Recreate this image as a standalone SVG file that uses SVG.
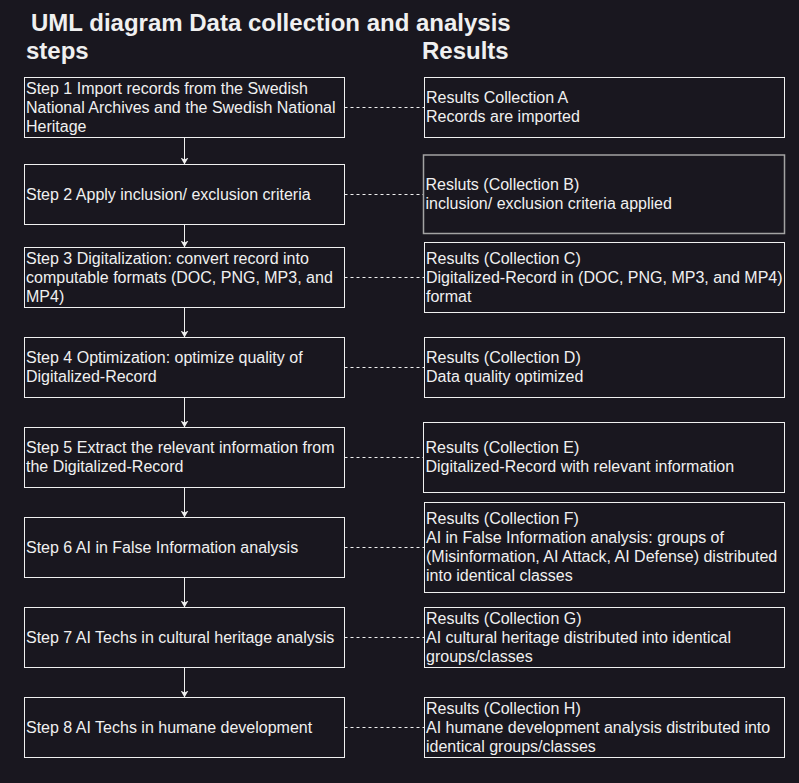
<svg xmlns="http://www.w3.org/2000/svg" width="799" height="783" viewBox="0 0 799 783">
<style>
.bg{fill:#19171f}
.box{fill:#19171f;stroke:#f0f0f0;stroke-width:1}
.boxg{fill:#19171f;stroke:#a3a3a3;stroke-width:1.5}
.t{font-family:"Liberation Sans",Arial,sans-serif;font-size:16px;fill:#f0f0f0}
.h{font-family:"Liberation Sans",Arial,sans-serif;font-size:24px;font-weight:bold;fill:#f0f0f0}
.flow{stroke:#f0f0f0;stroke-width:1;fill:none}
.dash{stroke:#f0f0f0;stroke-width:1;fill:none;stroke-dasharray:3 3}
</style>
<defs>
<marker id="arr" viewBox="0 0 7 8" refX="7" refY="4" markerWidth="7" markerHeight="8" markerUnits="userSpaceOnUse" orient="auto">
<path d="M0,0 L7,4 L0,8 L2,4 Z" fill="#f0f0f0"/>
</marker>
</defs>
<rect class="bg" x="0" y="0" width="799" height="783"/>
<g id="titles">
<text class="h" x="31" y="31">UML diagram Data collection and analysis</text>
<text class="h" x="26" y="59">steps</text>
<text class="h" x="422" y="59">Results</text>
</g>
<g id="connectors">
<line class="flow" x1="184.5" y1="137.5" x2="184.5" y2="164.5" marker-end="url(#arr)"/>
<line class="flow" x1="184.5" y1="224.5" x2="184.5" y2="247.5" marker-end="url(#arr)"/>
<line class="flow" x1="184.5" y1="307.5" x2="184.5" y2="337.5" marker-end="url(#arr)"/>
<line class="flow" x1="184.5" y1="397.5" x2="184.5" y2="427.5" marker-end="url(#arr)"/>
<line class="flow" x1="184.5" y1="487.5" x2="184.5" y2="517.5" marker-end="url(#arr)"/>
<line class="flow" x1="184.5" y1="577.5" x2="184.5" y2="607.5" marker-end="url(#arr)"/>
<line class="flow" x1="184.5" y1="667.5" x2="184.5" y2="697.5" marker-end="url(#arr)"/>
<line class="dash" x1="344.5" y1="107.5" x2="424.5" y2="107.5"/>
<line class="dash" x1="344.5" y1="194.5" x2="423.5" y2="194.5"/>
<line class="dash" x1="344.5" y1="277.5" x2="424.5" y2="277.5"/>
<line class="dash" x1="344.5" y1="367.5" x2="424.5" y2="367.5"/>
<line class="dash" x1="344.5" y1="457.5" x2="423.5" y2="457.5"/>
<line class="dash" x1="344.5" y1="547.5" x2="424.5" y2="547.5"/>
<line class="dash" x1="344.5" y1="637.5" x2="424.5" y2="637.5"/>
<line class="dash" x1="344.5" y1="727.5" x2="424.5" y2="727.5"/>
</g>
<g id="step1"><rect class="box" x="24.5" y="77.5" width="320" height="60"/>
<text class="t" x="26" y="93.5">Step 1 Import records from the Swedish</text>
<text class="t" x="26" y="112.5">National Archives and the Swedish National</text>
<text class="t" x="26" y="131.5">Heritage</text></g>
<g id="step2"><rect class="box" x="24.5" y="164.5" width="320" height="60"/>
<text class="t" x="26" y="199.5">Step 2 Apply inclusion/ exclusion criteria</text></g>
<g id="step3"><rect class="box" x="24.5" y="247.5" width="320" height="60"/>
<text class="t" x="26" y="263.5">Step 3 Digitalization: convert record into</text>
<text class="t" x="26" y="282.5">computable formats (DOC, PNG, MP3, and</text>
<text class="t" x="26" y="301.5">MP4)</text></g>
<g id="step4"><rect class="box" x="24.5" y="337.5" width="320" height="60"/>
<text class="t" x="26" y="363">Step 4 Optimization: optimize quality of</text>
<text class="t" x="26" y="382">Digitalized-Record</text></g>
<g id="step5"><rect class="box" x="24.5" y="427.5" width="320" height="60"/>
<text class="t" x="26" y="453">Step 5 Extract the relevant information from</text>
<text class="t" x="26" y="472">the Digitalized-Record</text></g>
<g id="step6"><rect class="box" x="24.5" y="517.5" width="320" height="60"/>
<text class="t" x="26" y="552.5">Step 6 AI in False Information analysis</text></g>
<g id="step7"><rect class="box" x="24.5" y="607.5" width="320" height="60"/>
<text class="t" x="26" y="642.5">Step 7 AI Techs in cultural heritage analysis</text></g>
<g id="step8"><rect class="box" x="24.5" y="697.5" width="320" height="60"/>
<text class="t" x="26" y="732.5">Step 8 AI Techs in humane development</text></g>
<g id="resultA"><rect class="box" x="424.5" y="77.5" width="360" height="60"/>
<text class="t" x="426" y="103">Results Collection A</text>
<text class="t" x="426" y="122">Records are imported</text></g>
<g id="resultB"><rect class="boxg" x="423.5" y="155" width="361" height="78.5"/>
<text class="t" x="425.5" y="189.75">Resluts (Collection B)</text>
<text class="t" x="425.5" y="208.75">inclusion/ exclusion criteria applied</text></g>
<g id="resultC"><rect class="box" x="424.5" y="242.5" width="360" height="70"/>
<text class="t" x="426" y="263.5">Results (Collection C)</text>
<text class="t" x="426" y="282.5">Digitalized-Record in (DOC, PNG, MP3, and MP4)</text>
<text class="t" x="426" y="301.5">format</text></g>
<g id="resultD"><rect class="box" x="424.5" y="337.5" width="360" height="60"/>
<text class="t" x="426" y="363">Results (Collection D)</text>
<text class="t" x="426" y="382">Data quality optimized</text></g>
<g id="resultE"><rect class="box" x="423.5" y="422.5" width="361" height="70"/>
<text class="t" x="425.5" y="453">Results (Collection E)</text>
<text class="t" x="425.5" y="472">Digitalized-Record with relevant information</text></g>
<g id="resultF"><rect class="box" x="424.5" y="502.5" width="360" height="90"/>
<text class="t" x="426" y="524">Results (Collection F)</text>
<text class="t" x="426" y="543">AI in False Information analysis: groups of</text>
<text class="t" x="426" y="562">(Misinformation, AI Attack, AI Defense) distributed</text>
<text class="t" x="426" y="581">into identical classes</text></g>
<g id="resultG"><rect class="box" x="424.5" y="607.5" width="360" height="60"/>
<text class="t" x="426" y="623.5">Results (Collection G)</text>
<text class="t" x="426" y="642.5">AI cultural heritage distributed into identical</text>
<text class="t" x="426" y="661.5">groups/classes</text></g>
<g id="resultH"><rect class="box" x="424.5" y="697.5" width="360" height="60"/>
<text class="t" x="426" y="713.5">Results (Collection H)</text>
<text class="t" x="426" y="732.5">AI humane development analysis distributed into</text>
<text class="t" x="426" y="751.5">identical groups/classes</text></g>
</svg>
